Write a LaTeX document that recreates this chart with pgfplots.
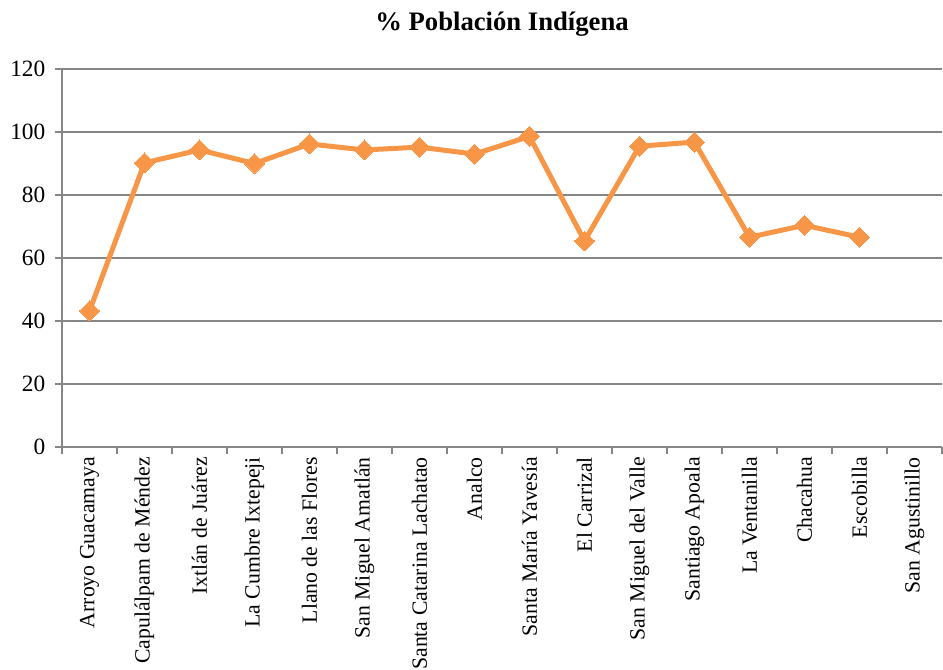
\documentclass[border=0pt]{standalone}
\usepackage{pgfplots}
\pgfplotsset{compat=1.18}
\usepackage{fontspec}
\setmainfont{Liberation Serif}
\definecolor{lineor}{HTML}{F79646}
\definecolor{gridg}{HTML}{868686}
\begin{document}
\begin{tikzpicture}
\begin{axis}[
  scale only axis, width=660pt, height=283.5pt,
  xmin=-0.5, xmax=15.5, ymin=0, ymax=120,
  axis x line=bottom, axis y line=left,
  axis line style={-, draw=gridg, line width=1.1pt},
  ytick={0,20,...,120},
  ymajorgrids, grid style={draw=gridg, line width=1.1pt},
  xtick={-0.5,0.5,...,15.5}, xticklabels={},
  extra x ticks={0,1,...,15},
  extra x tick labels={Arroyo Guacamaya,Capulálpam de Méndez,Ixtlán de Juárez,La Cumbre Ixtepeji,Llano de las Flores,San Miguel Amatlán,Santa Catarina Lachatao,Analco,Santa María Yavesía,El Carrizal,San Miguel del Valle,Santiago Apoala,La Ventanilla,Chacahua,Escobilla,San Agustinillo},
  extra x tick style={tick style={draw=none}},
  tick align=outside, major tick length=5pt,
  tick style={draw=gridg, line width=1.1pt},
  xticklabel style={rotate=90, anchor=east, font=\fontsize{16.3}{19}\selectfont, inner sep=2.5pt},
  yticklabel style={font=\fontsize{17.5}{20}\selectfont, xshift=-4pt},
  /pgf/number format/assume math mode=true,
  title={\% Población Indígena},
  title style={font=\bfseries\fontsize{20}{24}\selectfont, at={(0.5,1)}, anchor=south, yshift=15pt},
  clip=false,
]
\addplot[color=lineor, line width=3.75pt, mark=square*, mark size=5.3pt,
  mark options={rotate=45, fill=lineor, draw=lineor, line width=0pt}]
  coordinates {
  (0,43.2) (1,90.2) (2,94.3) (3,90.0) (4,96.2) (5,94.3) (6,95.2) (7,93.0)
  (8,98.6) (9,65.4) (10,95.5) (11,96.8) (12,66.6) (13,70.4) (14,66.6)
  };
\coordinate (O) at (rel axis cs:0,0);
\end{axis}
\pgfresetboundingbox
\useasboundingbox (O) ++(-46.5pt,-166.5pt) rectangle ++(707.25pt,501.75pt);
\end{tikzpicture}
\end{document}
